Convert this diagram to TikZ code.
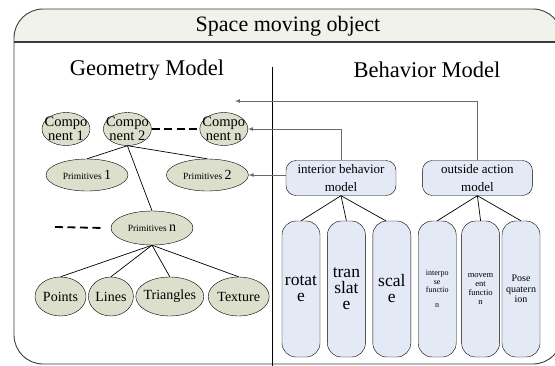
\documentclass[tikz,border=0pt]{standalone}
\usepackage{fontspec}
\setmainfont{Liberation Serif}
\usetikzlibrary{shapes.geometric, arrows, positioning}
\definecolor{ellfill}{RGB}{220,223,204}
\definecolor{boxfill}{RGB}{228,233,246}
\definecolor{bandfill}{RGB}{242,242,236}
\definecolor{linkgray}{RGB}{105,105,105}
\definecolor{framegray}{RGB}{60,60,60}
\tikzstyle{comp} = [
	ellipse,
	draw=black,
	fill=ellfill,
	minimum width=48pt,
	minimum height=33pt,
	inner sep=-6pt,
	align=center,
	font=\fontsize{14.5}{13.5}\selectfont]
\tikzstyle{prim} = [
	ellipse,
	draw=black,
	fill=ellfill,
	minimum width=82pt,
	minimum height=32pt,
	inner sep=-5pt,
	font=\fontsize{9.5}{10}\selectfont]
\tikzstyle{leaf} = [
	ellipse,
	draw=black,
	fill=ellfill,
	minimum height=39pt,
	inner sep=-5pt,
	font=\fontsize{14}{14}\selectfont]
\tikzstyle{behav} = [
	rectangle,
	rounded corners=10pt,
	minimum width=110pt,
	minimum height=35pt,
	align=center,
	draw=black,
	fill=boxfill,
	font=\fontsize{13}{18}\selectfont]
\tikzstyle{tallbox} = [
	rectangle,
	rounded corners=14pt,
	minimum width=38pt,
	minimum height=136pt,
	inner sep=0pt,
	align=center,
	draw=black,
	fill=boxfill]
\tikzstyle{edge} = [draw=black, line width=0.7pt]
\tikzstyle{feed} = [-latex, draw=linkgray, line width=0.7pt]
\tikzstyle{gap} = [draw=black, line width=1.8pt, dash pattern=on 8pt off 4.5pt]
\newcommand{\bignum}[1]{{\fontsize{14}{14}\selectfont #1}}

\begin{document}
\begin{tikzpicture}[x=1pt, y=-1pt]
\clip (0,0) rectangle (555,365);

% --- Frame ---
\begin{scope}
\clip[rounded corners=29pt] (14,9) rectangle (562,364);
\fill[bandfill] (14,9) rectangle (562,42);
\end{scope}
\draw[framegray, line width=0.9pt, rounded corners=29pt] (14,9) rectangle (562,364);
\draw[framegray, line width=1.4pt] (14,42) -- (562,42);
\draw[black, line width=0.8pt] (272,67) -- (272,366);

% --- Headings ---
\node (title) at (288,26) {\fontsize{22}{22}\selectfont Space moving object};
\node (geohead) at (147,70) {\fontsize{22.5}{22}\selectfont Geometry Model};
\node (behhead) at (427,70) {\fontsize{22.5}{22}\selectfont Behavior Model};

% --- Geometry nodes ---
\node (c1) [comp] at (66,129) {Compo\\nent 1};
\node (c2) [comp, right=13pt of c1] {Compo\\nent 2};
\node (cn) [comp, right=48pt of c2] {Compo\\nent n};

\node (p1) [prim] at (87,175) {Primitives \bignum{1}};
\node (p2) [prim, right=38pt of p1] {Primitives \bignum{2}};
\node (pn) [prim, minimum height=34pt] at (152,228) {Primitives \bignum{n}};

\node (pts) [leaf, minimum width=51pt] at (60.5,296.5) {Points};
\node (lns) [leaf, minimum width=45pt, right=2pt of pts] {Lines};
\node (tri) [leaf, minimum width=68pt, right=2pt of lns] {Triangles};
\node (tex) [leaf, minimum width=61pt, right=4pt of tri] {Texture};

\coordinate (geoin) at (235,101);
\coordinate (pdash) at (55,227);

% --- Behavior nodes ---
\node (ib) [behav] at (341,178) {interior behavior\\model};
\node (oa) [behav, right=26pt of ib] {outside action\\model};

\node (rot) [tallbox, font=\fontsize{17.5}{16}\selectfont] at (301,289) {rotat\\e};
\node (tra) [tallbox, font=\fontsize{17.5}{16}\selectfont, right=7pt of rot] {tran\\slat\\e};
\node (sca) [tallbox, font=\fontsize{17.5}{16}\selectfont, right=7pt of tra] {scal\\e};
\node (ipf) [tallbox, font=\fontsize{8}{8.5}\selectfont, right=7pt of sca] {interpo\\se\\functio\\[6pt]n};
\node (mvf) [tallbox, font=\fontsize{8.5}{9}\selectfont, right=5pt of ipf] {movem\\ent\\functio\\n};
\node (pq) [tallbox, font=\fontsize{10}{10.5}\selectfont, right=2pt of mvf] {Pose\\quatern\\ion};

% --- Arrows ---
\draw [gap] (c2) -- (cn);
\draw [gap] (pdash) -- ([xshift=-7pt]pn.west);

\draw [edge] (c2.south) -- (p1.north);
\draw [edge] (c2.south) -- (p2.north);
\draw [edge] (c2.south) -- (pn.north);

\draw [edge] (pn.south) -- (pts.north);
\draw [edge] (pn.south) -- (lns.north);
\draw [edge] (pn.south) -- (tri.north);
\draw [edge] (pn.south) -- (tex.north);

\draw [edge] (ib.south) -- (rot.north);
\draw [edge] (ib.south) -- (tra.north);
\draw [edge] (ib.south) -- ([xshift=-6pt]sca.north);
\draw [edge] (oa.south) -- (ipf.north);
\draw [edge] (oa.south) -- (mvf.north);
\draw [edge] (oa.south) -- (pq.north);

\draw [feed] (oa.north) |- (geoin);
\draw [feed] (ib.north) |- (cn.east);
\draw [feed] (ib.west |- p2) -- (p2.east);

\end{tikzpicture}
\end{document}
